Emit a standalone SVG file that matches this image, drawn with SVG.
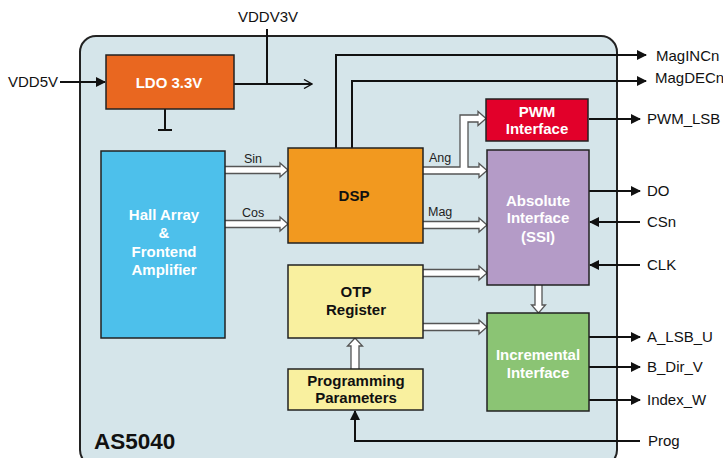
<svg xmlns="http://www.w3.org/2000/svg" width="723" height="458" viewBox="0 0 723 458">
<defs>
<style>
.box{stroke:#222;stroke-width:1.5}
.wt{font-family:"Liberation Sans",Arial,sans-serif;font-weight:bold;font-size:15px;fill:#fff;text-anchor:middle}
.bt{font-family:"Liberation Sans",Arial,sans-serif;font-weight:bold;font-size:15px;fill:#111;text-anchor:middle}
.lbl{font-family:"Liberation Sans",Arial,sans-serif;font-size:15px;fill:#111}
.sm{font-family:"Liberation Sans",Arial,sans-serif;font-size:12.5px;fill:#222}
.ln{stroke:#111;stroke-width:2;fill:none}
.hol{fill:#fff;stroke:#555;stroke-width:1.3;stroke-linejoin:miter}
</style>
<marker id="ah" viewBox="0 0 10 10" refX="9" refY="5" markerWidth="5" markerHeight="5" orient="auto-start-reverse" markerUnits="strokeWidth">
<path d="M0,0 L10,5 L0,10 Z" fill="#111"/>
</marker>
<marker id="oa" viewBox="0 0 10 10" refX="9" refY="5" markerWidth="5" markerHeight="5" orient="auto" markerUnits="strokeWidth">
<path d="M1,0.5 L9,5 L1,9.5" fill="none" stroke="#111" stroke-width="1.4"/>
</marker>
</defs>
<rect width="723" height="458" fill="#fff"/>
<g id="chip">
<rect x="80" y="36" width="537" height="430" rx="16" ry="16" fill="#d5e5ea" stroke="#222" stroke-width="2"/>
<text x="94" y="449" font-family="Liberation Sans,Arial,sans-serif" font-weight="bold" font-size="22.5" fill="#111">AS5040</text>
</g>
<g id="connectors">
<line class="ln" x1="60" y1="82" x2="105" y2="82" marker-end="url(#ah)"/>
<line class="ln" x1="234" y1="84" x2="312" y2="84" marker-end="url(#oa)"/>
<line class="ln" x1="267" y1="29" x2="267" y2="84"/>
<line class="ln" x1="165" y1="109" x2="165" y2="130"/>
<line class="ln" x1="158" y1="130" x2="172" y2="130"/>
<polyline class="ln" points="336,148 336,55 646,55" marker-end="url(#ah)"/>
<polyline class="ln" points="352,148 352,81 646,81" marker-end="url(#ah)"/>
<line class="ln" x1="589" y1="119" x2="640" y2="119" marker-end="url(#ah)"/>
<line class="ln" x1="589" y1="191" x2="640" y2="191" marker-end="url(#ah)"/>
<line class="ln" x1="640" y1="222" x2="590" y2="222" marker-end="url(#ah)"/>
<line class="ln" x1="640" y1="265" x2="590" y2="265" marker-end="url(#ah)"/>
<line class="ln" x1="589" y1="337" x2="640" y2="337" marker-end="url(#ah)"/>
<line class="ln" x1="589" y1="367" x2="640" y2="367" marker-end="url(#ah)"/>
<line class="ln" x1="589" y1="400" x2="640" y2="400" marker-end="url(#ah)"/>
<polyline class="ln" points="640,441 355,441 355,411" marker-end="url(#ah)"/>
<path class="hol" d="M225,166.5 H280 V163 L288,170 L280,177 V173.5 H225"/>
<path class="hol" d="M225,220.5 H280 V217 L288,224 L280,231 V227.5 H225"/>
<path class="hol" d="M423,167 H460 V115 H478 V111.5 L486,118.5 L478,125.5 V122 H468 V167 H479 V163.5 L487,170.5 L479,177.5 V174 H423"/>
<path class="hol" d="M423,221.5 H479 V218 L487,225 L479,232 V228.5 H423"/>
<path class="hol" d="M423,269.5 H479 V266 L487,273 L479,280 V276.5 H423"/>
<path class="hol" d="M423,323.5 H479 V320 L487,327 L479,334 V330.5 H423"/>
<path class="hol" d="M535,285 V305 H531.5 L538.5,313 L545.5,305 H542 V285"/>
<path class="hol" d="M351,369 V346 H347.5 L355,338 L362.5,346 H359 V369"/>
<text class="sm" x="244" y="163">Sin</text>
<text class="sm" x="242" y="217">Cos</text>
<text class="sm" x="429" y="162">Ang</text>
<text class="sm" x="428" y="216">Mag</text>
</g>
<g id="labels">
<text class="lbl" x="8" y="87">VDD5V</text>
<text class="lbl" x="268" y="22" text-anchor="middle">VDDV3V</text>
<text class="lbl" x="656" y="61">MagINCn</text>
<text class="lbl" x="655" y="83">MagDECn</text>
<text class="lbl" x="647" y="124">PWM_LSB</text>
<text class="lbl" x="647" y="196">DO</text>
<text class="lbl" x="647" y="227">CSn</text>
<text class="lbl" x="647" y="270">CLK</text>
<text class="lbl" x="647" y="342">A_LSB_U</text>
<text class="lbl" x="647" y="372">B_Dir_V</text>
<text class="lbl" x="647" y="405">Index_W</text>
<text class="lbl" x="648" y="446">Prog</text>
</g>
<g id="ldo">
<rect class="box" x="106" y="55" width="128" height="54" fill="#e96720"/>
<text class="wt" x="169" y="88" font-size="16">LDO 3.3V</text>
</g>
<g id="hall">
<rect class="box" x="101" y="151" width="124" height="187" fill="#4dc0eb"/>
<text class="wt" x="164" y="220">Hall Array</text>
<text class="wt" x="164" y="238">&amp;</text>
<text class="wt" x="164" y="257">Frontend</text>
<text class="wt" x="164" y="275">Amplifier</text>
</g>
<g id="dsp">
<rect class="box" x="288" y="148" width="135" height="95" fill="#f2991f"/>
<text class="bt" x="354" y="201" font-size="16">DSP</text>
</g>
<g id="pwm">
<rect class="box" x="486" y="99" width="102" height="42" fill="#e2002a"/>
<text class="wt" x="537" y="117">PWM</text>
<text class="wt" x="537" y="134">Interface</text>
</g>
<g id="absolute">
<rect class="box" x="487" y="150" width="102" height="135" fill="#b49bc7"/>
<text class="wt" x="538" y="206">Absolute</text>
<text class="wt" x="538" y="223">Interface</text>
<text class="wt" x="538" y="242">(SSI)</text>
</g>
<g id="otp">
<rect class="box" x="288" y="265" width="135" height="73" fill="#f9f09f"/>
<text class="bt" x="356" y="297">OTP</text>
<text class="bt" x="356" y="315">Register</text>
</g>
<g id="progparams">
<rect class="box" x="288" y="369" width="135" height="41" fill="#f9f09f"/>
<text class="bt" x="356" y="386">Programming</text>
<text class="bt" x="356" y="403">Parameters</text>
</g>
<g id="incremental">
<rect class="box" x="487" y="313" width="102" height="98" fill="#8bc474"/>
<text class="wt" x="538" y="360">Incremental</text>
<text class="wt" x="538" y="378">Interface</text>
</g>
</svg>
